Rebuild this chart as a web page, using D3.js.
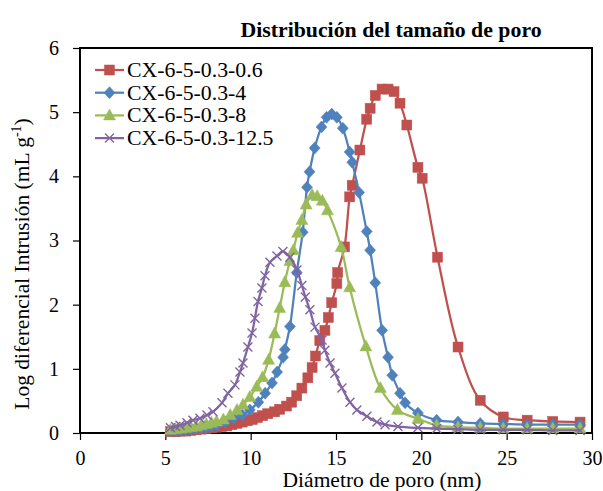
<!DOCTYPE html>
<html>
<head>
<meta charset="utf-8">
<script src="https://cdn.jsdelivr.net/npm/d3@7"></script>
<style>
  html, body { margin: 0; padding: 0; background: #fff; }
  svg { display: block; font-family: "Liberation Serif", "Times New Roman", serif; }
</style>
</head>
<body>
<svg id="chart" width="603" height="491"></svg>
<script>
// Pore-size distribution (log differential intrusion vs pore diameter)
const chartTitle = "Distribución del tamaño de poro";
const xTitle = "Diámetro de poro (nm)";
const yTitleMain = "Log diferencial Intrusión (mL g";
const yTitleSup = "-1";
const xTicks = [0, 5, 10, 15, 20, 25, 30];
const yTicks = [0, 1, 2, 3, 4, 5, 6];

const seriesNames = ["CX-6-5-0.3-0.6", "CX-6-5-0.3-4", "CX-6-5-0.3-8", "CX-6-5-0.3-12.5"];
const seriesColors = ["#C0504D", "#4F81BD", "#9BBB59", "#8064A2"];
const seriesMarkers = ["square", "diamond", "triangle", "cross"];

const redX = [5.3,5.6,5.9,6.2,6.5,6.8,7.1,7.4,7.7,8.0,8.3,8.6,8.9,9.2,9.5,9.8,10.1,10.4,10.7,11.0,11.4,11.7,12.1,12.4,12.7,13.0,13.35,13.6,13.8,14.05,14.35,14.55,14.75,15.05,15.1,15.5,15.8,15.95,16.4,16.8,17.0,17.3,17.7,18.05,18.4,18.75,19.15,19.8,20.05,20.95,22.15,23.45,24.8,26.2,27.7,29.3];
const redY = [0.02,0.02,0.03,0.03,0.04,0.05,0.06,0.07,0.08,0.09,0.10,0.11,0.13,0.15,0.17,0.19,0.21,0.24,0.27,0.30,0.33,0.37,0.42,0.48,0.58,0.70,0.86,1.02,1.20,1.44,1.60,1.80,2.03,2.33,2.50,2.90,3.68,3.86,4.41,4.89,5.06,5.26,5.36,5.36,5.32,5.14,4.80,4.14,3.97,2.74,1.34,0.51,0.25,0.20,0.18,0.17];

const blueX = [5.3,5.6,5.9,6.2,6.5,6.8,7.1,7.4,7.7,8.0,8.5,9.0,9.5,9.95,10.45,10.85,11.25,11.55,11.9,12.0,12.3,12.7,13.05,13.3,13.45,13.75,14.15,14.45,14.75,15.05,15.4,15.8,15.95,16.35,16.8,17.0,17.3,17.7,18.05,18.3,18.75,19.05,19.8,20.9,22.15,23.45,24.8,26.2,27.7,29.3];
const blueY = [0.03,0.03,0.04,0.05,0.06,0.07,0.08,0.09,0.10,0.12,0.17,0.23,0.28,0.36,0.48,0.62,0.78,0.95,1.18,1.30,1.66,2.50,3.13,3.83,4.07,4.44,4.77,4.92,4.97,4.92,4.75,4.38,4.22,3.75,3.14,2.85,2.34,1.60,1.18,0.90,0.62,0.47,0.31,0.20,0.17,0.15,0.14,0.13,0.13,0.13];

const greenX = [5.3,5.6,5.9,6.2,6.5,6.8,7.1,7.4,7.7,8.0,8.4,8.8,9.2,9.55,9.95,10.35,10.7,11.05,11.4,11.7,12.0,12.3,12.5,12.75,13.0,13.25,13.6,13.9,14.2,14.5,15.3,15.8,16.75,17.6,18.6,19.8,20.9,22.15,23.45,24.8,26.2,27.7,29.3];
const greenY = [0.05,0.06,0.07,0.08,0.09,0.10,0.12,0.14,0.16,0.18,0.21,0.28,0.36,0.44,0.56,0.72,0.87,1.14,1.55,1.95,2.35,2.68,2.85,3.12,3.32,3.56,3.71,3.69,3.62,3.47,2.90,2.27,1.35,0.70,0.36,0.22,0.12,0.09,0.08,0.07,0.07,0.07,0.07];

const purpleX = [5.3,5.6,5.86,6.27,6.62,7.03,7.44,7.79,8.32,8.67,9.08,9.37,9.55,9.84,10.08,10.25,10.43,10.66,10.84,11.13,11.54,11.89,12.3,12.71,13.0,13.2,13.47,13.77,14.18,14.35,14.65,14.94,15.35,15.82,16.22,16.81,17.4,17.87,18.63,19.8,20.9,22.15,23.45,24.8,26.2,27.7,29.3];
const purpleY = [0.08,0.10,0.12,0.16,0.20,0.23,0.28,0.33,0.47,0.62,0.75,0.95,1.09,1.34,1.56,1.79,2.05,2.26,2.45,2.66,2.76,2.83,2.74,2.54,2.30,2.12,1.92,1.65,1.45,1.29,1.09,0.93,0.70,0.48,0.36,0.26,0.17,0.13,0.10,0.08,0.07,0.06,0.05,0.05,0.05,0.04,0.04];

const seriesX = [redX, blueX, greenX, purpleX];
const seriesY = [redY, blueY, greenY, purpleY];

const svg = d3.select("#chart");
const W = 603, H = 491;
const margin = { left: 80, right: 11, top: 48, bottom: 58 };
const innerW = W - margin.left - margin.right;
const innerH = H - margin.top - margin.bottom;

const x = d3.scaleLinear().domain([0, 30]).range([margin.left, margin.left + innerW]);
const y = d3.scaleLinear().domain([0, 6]).range([margin.top + innerH, margin.top]);

svg.append("rect").attr("width", W).attr("height", H).attr("fill", "#fff");

// Title
svg.append("text")
  .attr("x", 391).attr("y", 37)
  .attr("text-anchor", "middle")
  .attr("font-weight", "bold")
  .attr("font-size", 21.8)
  .attr("fill", "#000")
  .text(chartTitle);

// Axes
const xAxis = d3.axisBottom(x).tickValues(xTicks).tickSize(7).tickPadding(11).tickFormat(d3.format("d"));
const yAxis = d3.axisLeft(y).tickValues(yTicks).tickSize(7).tickPadding(14).tickFormat(d3.format("d"));

const gx = svg.append("g").attr("transform", `translate(0,${margin.top + innerH})`).call(xAxis);
const gy = svg.append("g").attr("transform", `translate(${margin.left},0)`).call(yAxis);
[gx, gy].forEach(g => {
  g.select(".domain").remove();
  g.selectAll(".tick line").attr("stroke", "#000").attr("stroke-width", 1.2);
  g.selectAll(".tick text").attr("font-size", 20).attr("fill", "#000")
    .attr("font-family", "Liberation Serif, Times New Roman, serif");
});

// Plot frame
svg.append("rect")
  .attr("x", margin.left).attr("y", margin.top)
  .attr("width", innerW).attr("height", innerH)
  .attr("fill", "none").attr("stroke", "#000").attr("stroke-width", 2);

// Axis titles
svg.append("text")
  .attr("x", 382).attr("y", 487)
  .attr("text-anchor", "middle")
  .attr("font-size", 21.5)
  .attr("fill", "#000")
  .text(xTitle);

const yt = svg.append("text")
  .attr("transform", "translate(29,264) rotate(-90)")
  .attr("text-anchor", "middle")
  .attr("font-size", 21.5)
  .attr("fill", "#000");
yt.append("tspan").text(yTitleMain);
yt.append("tspan").attr("font-size", 14).attr("dy", -8).text(yTitleSup);
yt.append("tspan").attr("dy", 8).text(")");

// Marker drawing
function drawMarker(g, type, color, cx, cy) {
  if (type === "square") {
    g.append("rect").attr("x", cx - 5).attr("y", cy - 5).attr("width", 10).attr("height", 10)
      .attr("fill", color).attr("stroke", color).attr("stroke-width", 0.5);
  } else if (type === "diamond") {
    g.append("path").attr("d", `M${cx},${cy - 6}L${cx + 5.5},${cy}L${cx},${cy + 6}L${cx - 5.5},${cy}Z`)
      .attr("fill", color).attr("stroke", color).attr("stroke-width", 0.5);
  } else if (type === "triangle") {
    g.append("path").attr("d", `M${cx},${cy - 6.5}L${cx + 6},${cy + 4.5}L${cx - 6},${cy + 4.5}Z`)
      .attr("fill", color).attr("stroke", color).attr("stroke-width", 0.5);
  } else {
    g.append("path").attr("d", `M${cx - 4.5},${cy - 4.5}L${cx + 4.5},${cy + 4.5}M${cx - 4.5},${cy + 4.5}L${cx + 4.5},${cy - 4.5}`)
      .attr("fill", "none").attr("stroke", color).attr("stroke-width", 1.4);
  }
}

// Series
const line = d3.line().x(d => x(d[0])).y(d => y(d[1])).curve(d3.curveCatmullRom.alpha(0.5));
const plot = svg.append("g");
seriesNames.forEach((name, i) => {
  const pts = seriesX[i].map((v, j) => [v, seriesY[i][j]]);
  const g = plot.append("g");
  g.append("path").datum(pts).attr("d", line)
    .attr("fill", "none").attr("stroke", seriesColors[i]).attr("stroke-width", 2.25);
  pts.forEach(p => drawMarker(g, seriesMarkers[i], seriesColors[i], x(p[0]), y(p[1])));
});

// Legend
const legend = svg.append("g");
seriesNames.forEach((name, i) => {
  const cy = 70 + i * 22.7;
  legend.append("line").attr("x1", 95).attr("x2", 124).attr("y1", cy).attr("y2", cy)
    .attr("stroke", seriesColors[i]).attr("stroke-width", 2.25);
  drawMarker(legend, seriesMarkers[i], seriesColors[i], 109.5, cy);
  legend.append("text").attr("x", 127).attr("y", cy + 7)
    .attr("font-size", 21.8).attr("fill", "#000").text(name);
});
</script>
</body>
</html>
